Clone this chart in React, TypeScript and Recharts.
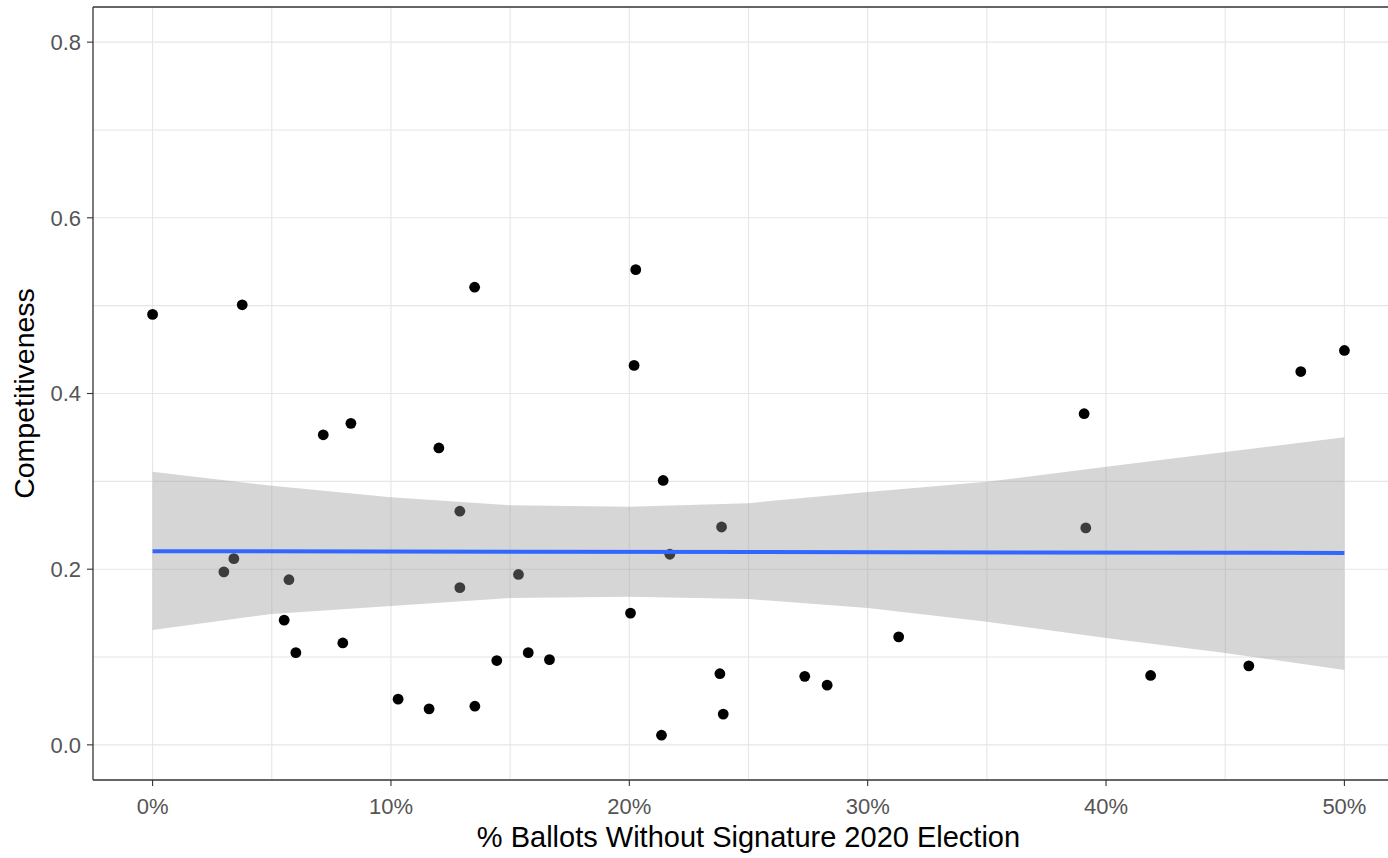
import React from 'react';
import {
  ComposedChart,
  Scatter,
  Area,
  Line,
  XAxis,
  YAxis,
  CartesianGrid,
  ReferenceLine,
  Label,
} from 'recharts';

// Scatter points: % ballots without signature (fraction) vs competitiveness
const POINT_X = [
  0.0, 0.0376, 0.0299, 0.0341, 0.0572, 0.0552, 0.0601, 0.0716, 0.0832, 0.0798,
  0.103, 0.116, 0.1201, 0.1289, 0.1289, 0.1351, 0.1352, 0.1444, 0.1535, 0.1576,
  0.1665, 0.2005, 0.202, 0.2027, 0.2135, 0.2142, 0.217, 0.238, 0.2387, 0.2394,
  0.2736, 0.283, 0.313, 0.3908, 0.3915, 0.4187, 0.4599, 0.4817, 0.5,
];
const POINT_Y = [
  0.49, 0.501, 0.197, 0.212, 0.188, 0.142, 0.105, 0.353, 0.366, 0.116,
  0.052, 0.041, 0.338, 0.266, 0.179, 0.521, 0.044, 0.096, 0.194, 0.105,
  0.097, 0.15, 0.432, 0.541, 0.011, 0.301, 0.217, 0.081, 0.248, 0.035,
  0.078, 0.068, 0.123, 0.377, 0.247, 0.079, 0.09, 0.425, 0.449,
];

// Confidence band of the linear fit
const BAND_X = [0, 0.05, 0.1, 0.15, 0.2, 0.25, 0.3, 0.35, 0.4, 0.45, 0.5];
const BAND_LOW = [0.1308, 0.149, 0.1581, 0.1672, 0.1686, 0.166, 0.1558, 0.1402, 0.1217, 0.1046, 0.0853];
const BAND_HIGH = [0.3108, 0.2949, 0.282, 0.2729, 0.271, 0.2752, 0.288, 0.2994, 0.3165, 0.3335, 0.3502];

// Fitted line end points
const FIT_X = [0, 0.5];
const FIT_Y = [0.2205, 0.2185];

// Axes
const X_TICKS = [0, 0.1, 0.2, 0.3, 0.4, 0.5];
const Y_TICKS = [0, 0.2, 0.4, 0.6, 0.8];
const X_GRID = [0, 0.05, 0.1, 0.15, 0.2, 0.25, 0.3, 0.35, 0.4, 0.45, 0.5];
const Y_GRID = [0, 0.1, 0.2, 0.3, 0.4, 0.5, 0.6, 0.7, 0.8];
const X_DOMAIN = [-0.025, 0.525];
const Y_DOMAIN = [-0.04, 0.84];
const X_TITLE = '% Ballots Without Signature 2020 Election';
const Y_TITLE = 'Competitiveness';

const FONT = '"Liberation Sans", Arial, sans-serif';

const points = POINT_X.map((x, i) => ({ x, y: POINT_Y[i] }));
const bandRows = BAND_X.map((x, i) => ({ x, band: [BAND_LOW[i], BAND_HIGH[i]] }));
const fitRows = FIT_X.map((x, i) => ({ x, fit: FIT_Y[i] }));

const Dot = (props: any) => {
  const { cx, cy } = props;
  if (cx == null || cy == null) return null;
  return <circle cx={cx} cy={cy} r={5.4} fill="#000000" />;
};

const renderYTitle = (props: any) => {
  const vb = props.viewBox || {};
  const cx = 24;
  const cy = (vb.y ?? 0) + (vb.height ?? 0) / 2;
  return (
    <text
      x={cx}
      y={cy}
      transform={`rotate(-90 ${cx} ${cy})`}
      textAnchor="middle"
      dominantBaseline="central"
      fontSize={28.5}
      fontFamily={FONT}
      fill="#000000"
    >
      {Y_TITLE}
    </text>
  );
};

const renderXTitle = (props: any) => {
  const vb = props.viewBox || {};
  const cx = (vb.x ?? 0) + (vb.width ?? 0) / 2;
  const cy = 847;
  return (
    <text x={cx} y={cy} textAnchor="middle" fontSize={29} fontFamily={FONT} fill="#000000">
      {X_TITLE}
    </text>
  );
};

export default function App() {
  return (
    <div
      style={{
        position: 'absolute',
        left: 0,
        top: 0,
        width: 1388,
        height: 858,
        overflow: 'hidden',
        background: '#ffffff',
      }}
    >
      <ComposedChart
        width={1404}
        height={858}
        data={bandRows}
        margin={{ top: 7, right: 0, bottom: 0, left: 0 }}
      >
        <CartesianGrid
          stroke="#E6E6E6"
          strokeWidth={1.1}
          horizontalValues={Y_GRID}
          verticalValues={X_GRID}
        />
        <XAxis
          dataKey="x"
          type="number"
          domain={X_DOMAIN}
          ticks={X_TICKS}
          allowDataOverflow
          height={78}
          tickFormatter={(v: number) => `${Math.round(v * 100)}%`}
          tick={{ fontSize: 22, fill: '#555555', fontFamily: FONT }}
          tickSize={6}
          tickMargin={12}
          tickLine={{ stroke: '#333333', strokeWidth: 1.1 }}
          axisLine={{ stroke: '#333333', strokeWidth: 1.3 }}
          interval={0}
        >
          <Label content={renderXTitle} />
        </XAxis>
        <YAxis
          type="number"
          domain={Y_DOMAIN}
          ticks={Y_TICKS}
          allowDataOverflow
          width={93}
          tickFormatter={(v: number) => v.toFixed(1)}
          tick={{ fontSize: 22, fill: '#555555', fontFamily: FONT }}
          tickSize={6}
          tickMargin={6}
          tickLine={{ stroke: '#333333', strokeWidth: 1.1 }}
          axisLine={{ stroke: '#333333', strokeWidth: 1.3 }}
          interval={0}
        >
          <Label content={renderYTitle} />
        </YAxis>
        <Scatter
          data={points}
          dataKey="y"
          shape={Dot}
          isAnimationActive={false}
          zIndex={100}
        />
        <Area
          dataKey="band"
          type="linear"
          fill="#999999"
          fillOpacity={0.4}
          stroke="none"
          dot={false}
          activeDot={false}
          isAnimationActive={false}
          zIndex={200}
        />
        <Line
          data={fitRows}
          dataKey="fit"
          type="linear"
          stroke="#3366FF"
          strokeWidth={4}
          dot={false}
          activeDot={false}
          isAnimationActive={false}
          zIndex={300}
        />
        <ReferenceLine y={Y_DOMAIN[1]} stroke="#333333" strokeWidth={1.5} />
      </ComposedChart>
    </div>
  );
}
